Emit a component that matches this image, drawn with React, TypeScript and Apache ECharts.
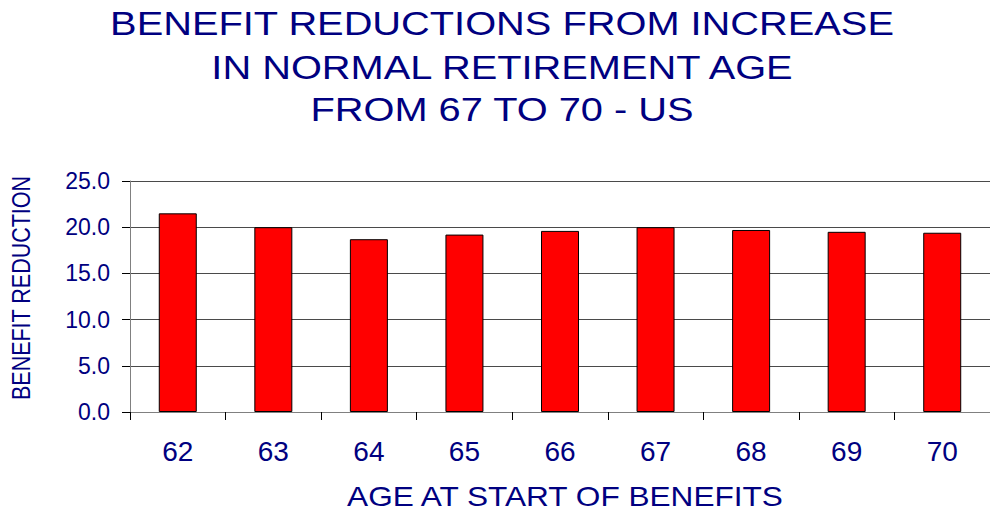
import React, { useEffect, useRef } from "react";
import * as echarts from "echarts";

// Age at which benefits start, and the percentage reduction in benefits
const ages = ["62", "63", "64", "65", "66", "67", "68", "69", "70"];
const reductions = [21.5, 20.0, 18.7, 19.2, 19.6, 20.0, 19.7, 19.5, 19.4];

const titleLines = [
  "BENEFIT REDUCTIONS FROM INCREASE",
  "IN NORMAL RETIREMENT AGE",
  "FROM 67 TO 70 - US",
];
const xAxisTitle = "AGE AT START OF BENEFITS";
const yAxisTitle = "BENEFIT REDUCTION";

const NAVY = "#000080";
const FONT = "'Liberation Sans', Arial, sans-serif";

export default function App() {
  const ref = useRef<HTMLDivElement>(null);

  useEffect(() => {
    if (!ref.current) return;
    const chart = echarts.init(ref.current, undefined, { renderer: "svg" });

    const titleY = [24, 67.5, 110];
    const titleGraphics = titleLines.map((line, i) => ({
      type: "text",
      x: 502,
      y: titleY[i],
      scaleX: 1.17,
      style: {
        text: line,
        font: `normal 34px ${FONT}`,
        fill: NAVY,
        textAlign: "center",
        align: "center",
        textVerticalAlign: "middle",
        verticalAlign: "middle",
      },
    }));

    chart.setOption({
      animation: false,
      backgroundColor: "#ffffff",
      grid: { left: 130, right: -6, top: 181, bottom: 101, containLabel: false },
      xAxis: {
        type: "category",
        data: ages,
        axisLine: { lineStyle: { color: "#808080", width: 1 } },
        axisTick: { show: true, length: 8, lineStyle: { color: "#000000" } },
        axisLabel: {
          color: NAVY,
          fontFamily: FONT,
          fontSize: 28,
          margin: 25,
        },
        splitLine: { show: false },
      },
      yAxis: {
        type: "value",
        min: 0,
        max: 25,
        interval: 5,
        axisLine: { show: true, lineStyle: { color: "#808080", width: 1 } },
        axisTick: { show: true, length: 8, lineStyle: { color: "#000000" } },
        axisLabel: {
          color: NAVY,
          fontFamily: FONT,
          fontSize: 23,
          margin: 20,
          formatter: (v: number) => v.toFixed(1),
        },
        splitLine: { show: true, lineStyle: { color: "#4a4a4a", width: 1 } },
      },
      series: [
        {
          type: "bar",
          data: reductions,
          barWidth: 38,
          itemStyle: { color: "#ff0000", borderColor: "#000000", borderWidth: 1 },
        },
      ],
      graphic: [
        ...titleGraphics,
        {
          type: "text",
          x: 565,
          y: 496.5,
          scaleX: 1.17,
          style: {
            text: xAxisTitle,
            font: `normal 27px ${FONT}`,
            fill: NAVY,
            textAlign: "center",
            align: "center",
            textVerticalAlign: "middle",
            verticalAlign: "middle",
          },
        },
        {
          type: "text",
          x: 21.5,
          y: 288,
          rotation: Math.PI / 2,
          scaleY: 1.2,
          style: {
            text: yAxisTitle,
            font: `normal 21.5px ${FONT}`,
            fill: NAVY,
            textAlign: "center",
            align: "center",
            textVerticalAlign: "middle",
            verticalAlign: "middle",
          },
        },
      ],
    });

    return () => chart.dispose();
  }, []);

  return (
    <div
      ref={ref}
      style={{ position: "fixed", left: 0, top: 0, width: 990, height: 513 }}
    />
  );
}
